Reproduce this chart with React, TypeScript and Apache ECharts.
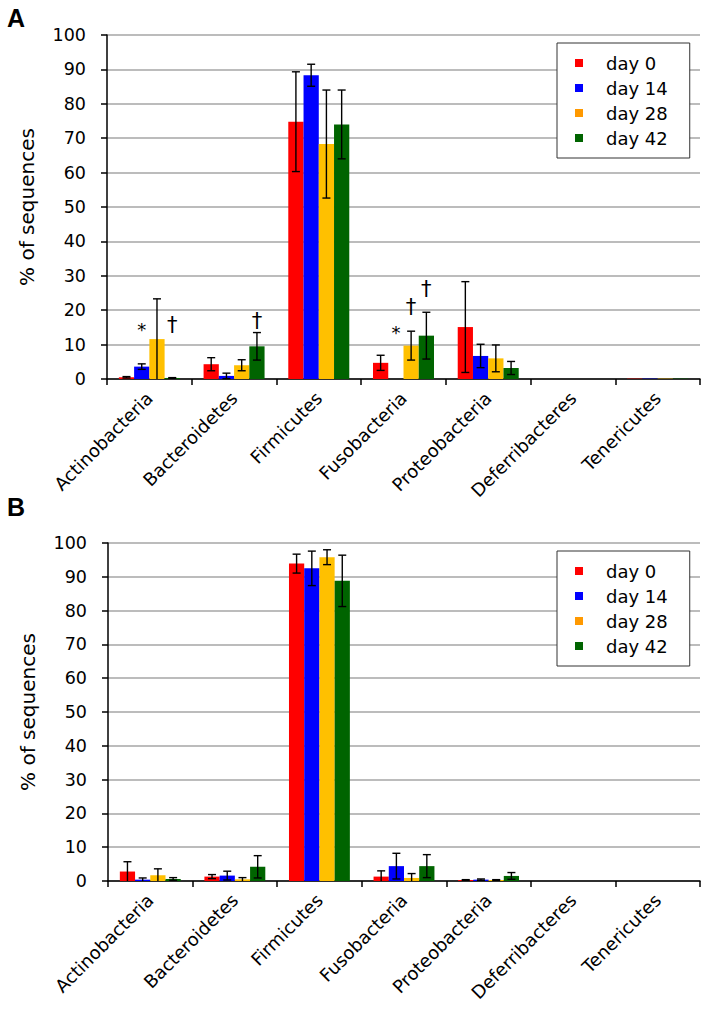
import React, { useEffect, useRef } from "react";
import * as echarts from "echarts";

const categories = [
  "Actinobacteria",
  "Bacteroidetes",
  "Firmicutes",
  "Fusobacteria",
  "Proteobacteria",
  "Deferribacteres",
  "Tenericutes",
];
const seriesNames = ["day 0", "day 14", "day 28", "day 42"];
const barColors = ["#FF0000", "#0000FF", "#FFC000", "#006400"];
const legendColors = ["#FF0000", "#0000FF", "#FF9900", "#006400"];
const yTicks = { min: 0, max: 100, interval: 10 };

// Panel A means and error (SD)
const aDay0 = [0.5, 4.3, 74.8, 4.7, 15.1, 0, 0.1];
const aErr0 = [0.2, 1.9, 14.5, 2.2, 13.2, 0, 0];
const aDay14 = [3.6, 0.9, 88.3, 0, 6.7, 0, 0.1];
const aErr14 = [0.8, 0.8, 3.2, 0, 3.4, 0, 0];
const aDay28 = [11.6, 4.0, 68.3, 9.7, 6.0, 0, 0.1];
const aErr28 = [11.7, 1.6, 15.7, 4.2, 3.9, 0, 0];
const aDay42 = [0.3, 9.5, 74.0, 12.6, 3.2, 0, 0.1];
const aErr42 = [0.1, 4.0, 10.0, 6.8, 1.9, 0, 0];

// Panel B means and error (SD)
const bDay0 = [2.8, 1.3, 93.9, 1.3, 0.3, 0, 0];
const bErr0 = [2.9, 0.6, 2.8, 1.7, 0.1, 0, 0];
const bDay14 = [0.4, 1.6, 92.5, 4.4, 0.4, 0, 0];
const bErr14 = [0.5, 1.3, 5.1, 3.8, 0.2, 0, 0];
const bDay28 = [1.7, 0.5, 95.8, 0.9, 0.3, 0, 0];
const bErr28 = [1.9, 0.5, 2.2, 1.3, 0.1, 0, 0];
const bDay42 = [0.6, 4.2, 88.8, 4.4, 1.5, 0, 0];
const bErr42 = [0.4, 3.3, 7.6, 3.4, 1.0, 0, 0];

// Significance marks in panel A: [category index, day index, height, mark]
const annotationsA: [number, number, number, string][] = [
  [0, 1, 15.7, "*"],
  [0, 3, 15.7, "†"],
  [1, 3, 16.9, "†"],
  [3, 1, 15.1, "*"],
  [3, 2, 20.9, "†"],
  [3, 3, 26.2, "†"],
];

const FONT = "DejaVu Sans";
const CAT_GAP = 0.28;

function offsetFor(day: number, band: number) {
  const w = (1 - CAT_GAP) / 4;
  return band * (-(1 - CAT_GAP) / 2 + w * (day + 0.5));
}

function buildPanel(
  idx: number,
  means: number[][],
  errs: number[][],
  annotations: [number, number, number, string][]
) {
  const series: any[] = [];
  means.forEach((m, d) => {
    series.push({
      name: seriesNames[d],
      type: "bar",
      xAxisIndex: idx,
      yAxisIndex: idx,
      data: m,
      barGap: "0%",
      barCategoryGap: CAT_GAP * 100 + "%",
      itemStyle: { color: barColors[d] },
      z: 2,
    });
  });
  const errData: number[][] = [];
  means.forEach((m, d) => {
    m.forEach((v, c) => {
      const e = errs[d][c];
      if (e > 0) errData.push([c, d, Math.max(0, v - e), v + e]);
    });
  });
  series.push({
    type: "custom",
    xAxisIndex: idx,
    yAxisIndex: idx,
    data: errData,
    encode: { x: 0, y: 3 },
    z: 5,
    silent: true,
    renderItem: (params: any, api: any) => {
      const c = api.value(0);
      const d = api.value(1);
      const lo = api.value(2);
      const hi = api.value(3);
      const band = api.size([1, 0])[0];
      const off = offsetFor(d, band);
      const pHi = api.coord([c, hi]);
      const pLo = api.coord([c, lo]);
      const x = pHi[0] + off;
      const cap = 4;
      const style = { stroke: "#000", lineWidth: 1.4 };
      const children: any[] = [
        { type: "line", shape: { x1: x, y1: pHi[1], x2: x, y2: pLo[1] }, style },
        { type: "line", shape: { x1: x - cap, y1: pHi[1], x2: x + cap, y2: pHi[1] }, style },
      ];
      if (lo > 0) {
        children.push({
          type: "line",
          shape: { x1: x - cap, y1: pLo[1], x2: x + cap, y2: pLo[1] },
          style,
        });
      }
      return { type: "group", children };
    },
  });
  if (annotations.length) {
    series.push({
      type: "custom",
      xAxisIndex: idx,
      yAxisIndex: idx,
      data: annotations.map((a) => [a[0], a[1], a[2]]),
      encode: { x: 0, y: 2 },
      z: 6,
      silent: true,
      renderItem: (params: any, api: any) => {
        const a = annotations[params.dataIndex];
        const band = api.size([1, 0])[0];
        const p = api.coord([a[0], a[2]]);
        const x = p[0] + offsetFor(a[1], band);
        const isStar = a[3] === "*";
        return {
          type: "text",
          x,
          y: p[1] + (isStar ? 5 : 0),
          style: {
            text: a[3],
            fontFamily: FONT,
            fontSize: isStar ? 18 : 21,
            fill: "#000",
            align: "center",
            verticalAlign: "middle",
          },
        };
      },
    });
  }
  return series;
}

export default function App() {
  const ref = useRef<HTMLDivElement>(null);
  useEffect(() => {
    document.body.style.margin = "0";
    const chart = echarts.init(ref.current!, undefined, { renderer: "svg" });
    const grids = [
      { left: 107, top: 35, width: 593, height: 344 },
      { left: 108, top: 543, width: 592, height: 338 },
    ];
    const xAxes = grids.map((_, i) => ({
      type: "category",
      gridIndex: i,
      data: categories,
      axisLine: { lineStyle: { color: "#000", width: 1.5 } },
      axisTick: { show: true, length: 6, lineStyle: { color: "#000", width: 1.5 } },
      axisLabel: {
        interval: 0,
        rotate: 45,
        margin: 16,
        color: "#000",
        fontFamily: FONT,
        fontSize: 18,
      },
    }));
    const yAxes = grids.map((_, i) => ({
      type: "value",
      gridIndex: i,
      min: yTicks.min,
      max: yTicks.max,
      interval: yTicks.interval,
      name: "% of sequences",
      nameLocation: "middle",
      nameGap: 70,
      nameTextStyle: { fontFamily: FONT, fontSize: 20, color: "#000" },
      axisLine: { show: true, lineStyle: { color: "#000", width: 1.5 } },
      axisTick: { show: true, length: 6, lineStyle: { color: "#000", width: 1.5 } },
      axisLabel: { margin: 21, color: "#000", fontFamily: FONT, fontSize: 17.5 },
      splitLine: { show: true, lineStyle: { color: "#a6a6a6", width: 1.5 } },
    }));
    const legendData = seriesNames.map((n, i) => ({
      name: n,
      itemStyle: { color: legendColors[i] },
    }));
    const legends = [43, 551].map((top) => ({
      orient: "vertical",
      left: 557,
      top,
      data: legendData,
      icon: "rect",
      itemWidth: 8,
      itemHeight: 8,
      itemGap: 7,
      padding: [11, 22, 11, 18],
      borderColor: "#333",
      borderWidth: 1,
      backgroundColor: "#fff",
      selectedMode: false,
      textStyle: {
        fontFamily: FONT,
        fontSize: 18,
        color: "#000",
        lineHeight: 18,
        padding: [0, 0, 0, 18],
      },
    }));
    const series = [
      ...buildPanel(
        0,
        [aDay0, aDay14, aDay28, aDay42],
        [aErr0, aErr14, aErr28, aErr42],
        annotationsA
      ),
      ...buildPanel(
        1,
        [bDay0, bDay14, bDay28, bDay42],
        [bErr0, bErr14, bErr28, bErr42],
        []
      ),
    ];
    chart.setOption({
      animation: false,
      backgroundColor: "#fff",
      grid: grids,
      xAxis: xAxes,
      yAxis: yAxes,
      legend: legends,
      series,
      graphic: [
        {
          type: "text",
          left: 7,
          top: 5,
          style: { text: "A", fontFamily: "Liberation Sans", fontSize: 25, fontWeight: "bold", fill: "#000" },
        },
        {
          type: "text",
          left: 7,
          top: 494,
          style: { text: "B", fontFamily: "Liberation Sans", fontSize: 25, fontWeight: "bold", fill: "#000" },
        },
      ],
    });
    return () => chart.dispose();
  }, []);
  return <div ref={ref} style={{ width: 707, height: 1018 }} />;
}
